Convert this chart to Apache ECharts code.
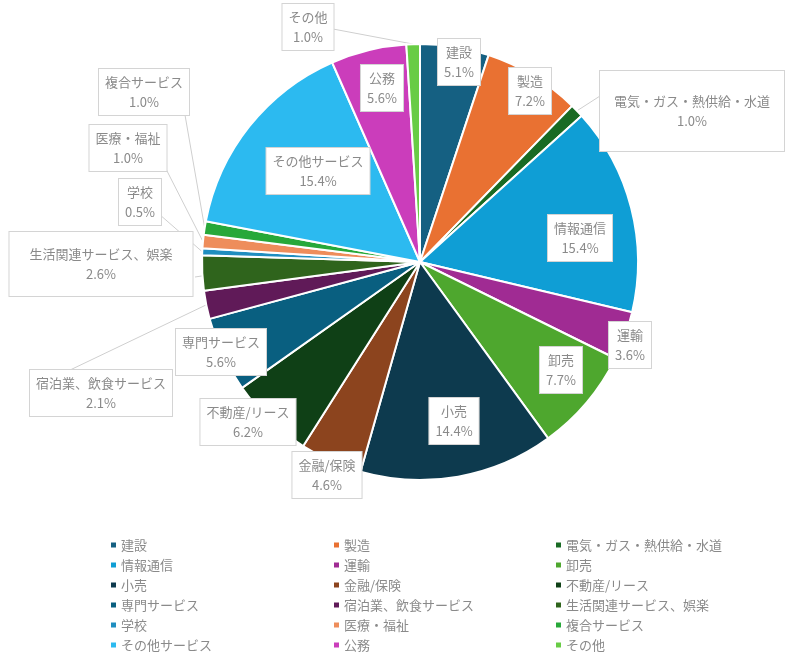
<!DOCTYPE html>
<html>
<head>
<meta charset="utf-8">
<script src="https://cdn.jsdelivr.net/npm/echarts@6/dist/echarts.min.js"></script>
<style>
html,body{margin:0;padding:0;background:#fff;}
#chart{width:800px;height:664px;}
</style>
</head>
<body>
<div id="chart"></div>
<script>
// ---- data ----
const categories = ['建設','製造','電気・ガス・熱供給・水道','情報通信','運輸','卸売','小売','金融/保険','不動産/リース','専門サービス','宿泊業、飲食サービス','生活関連サービス、娯楽','学校','医療・福祉','複合サービス','その他サービス','公務','その他'];
const shares = [5.1,7.2,1.0,15.4,3.6,7.7,14.4,4.6,6.2,5.6,2.1,2.6,0.5,1.0,1.0,15.4,5.6,1.0];

// ---- styling / layout ----
const colors = ['#156082','#E97132','#196B24','#0F9ED5','#A02B93','#4EA72E',
                '#0D3A4E','#8C441E','#0F4016','#095F80','#601A58','#2F641C',
                '#1F8EC0','#EE8D5B','#27A839','#2CBAF0','#CB3DBB','#68CC45'];
const CX = 420, CY = 262, R = 218;
const labelCenters = [[459,62],[530,91],[692,111],[580,238],[630,345],[561,370],[454,421],[327,475],[248,422],[221,352],[101,393],[101,264],[140,202],[128,148],[144,92],[318,171],[382,88],[308,27]];
// leader line: end point on label box and radial fraction of anchor on the slice
const leaderEnds = {2:[600,96,1], 10:[68,371,1], 11:[195,277,0.87], 12:[159,214,1], 13:[166,169,1], 14:[185,115,1], 17:[333,29,1]};
const bigPad = {2:[20,14], 11:[12,20]};

const FONT = '"Noto Sans CJK JP", "Noto Sans", sans-serif';
const TXT = '#8a8a8a';

const total = shares.reduce((a,b)=>a+b,0);
const midAngles = [];
let cum = 0;
shares.forEach(v=>{ midAngles.push((cum + v/2)/total*2*Math.PI); cum += v; });

const data = categories.map((c,i)=>{
  const d = {name:c, value:shares[i], itemStyle:{color:colors[i]}};
  d.label = {padding: bigPad[i] || [3,6]};
  d.labelLine = {show: leaderEnds[i] !== undefined};
  return d;
});

const legendCols = [[],[],[]];
categories.forEach((c,i)=>legendCols[i%3].push(c));
const legendLefts = [104, 327, 549];
const legends = legendCols.map((col,k)=>({
  orient:'vertical', left: legendLefts[k], top: 533,
  data: col, icon:'rect', itemWidth:7, itemHeight:7, itemGap:6,
  textStyle:{color:TXT, fontSize:13, fontFamily:FONT, lineHeight:14, padding:[0,0,0,-1]},
  selectedMode:false
}));

const chart = echarts.init(document.getElementById('chart'), null, {renderer:'canvas'});
chart.setOption({
  animation:false,
  textStyle:{fontFamily:FONT},
  legend: legends,
  series:[{
    type:'pie',
    center:[CX,CY],
    radius:R,
    startAngle:90,
    clockwise:true,
    avoidLabelOverlap:false,
    itemStyle:{borderColor:'#fff', borderWidth:2},
    label:{
      show:true, position:'outside',
      formatter: p => p.name + '\n' + p.value.toFixed(1) + '%',
      color:TXT, fontSize:13, fontFamily:FONT, lineHeight:20,
      backgroundColor:'#fff', borderColor:'#d4d4d4', borderWidth:1,
      align:'center'
    },
    labelLine:{lineStyle:{color:'#cfcfcf', width:1}, length:10, length2:10},
    labelLayout: function(params){
      const i = params.dataIndex;
      const p = labelCenters[i];
      const out = {x:p[0], y:p[1], align:'center', verticalAlign:'middle'};
      const e = leaderEnds[i];
      if (e) {
        const a = midAngles[i], r = R * e[2];
        const sx = CX + r*Math.sin(a), sy = CY - r*Math.cos(a);
        out.labelLinePoints = [[sx,sy],[sx,sy],[e[0],e[1]]];
      }
      return out;
    },
    emphasis:{disabled:true},
    data: data
  }]
});
</script>
</body>
</html>
